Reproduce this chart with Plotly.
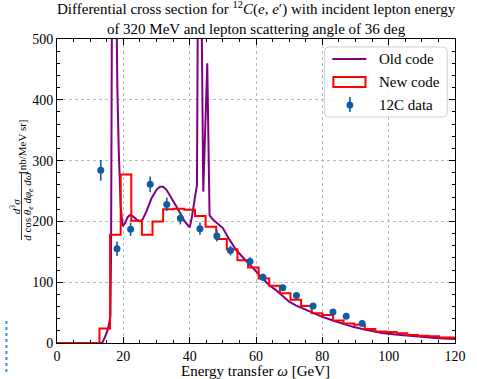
import plotly.graph_objects as go

# ---- Old code: continuous cross-section curve (omega in GeV, nb/MeV sr)
old_omega = [0.0, 13.6, 14.5, 15.3, 15.8, 16.1, 16.3, 16.6, 17.2, 17.8, 18.2,
             18.6, 19.2, 19.8, 20.5, 21.3, 22.1, 23.0, 24.0, 25.0, 25.8, 27.0,
             28.5, 30.0, 31.0, 32.0, 33.0, 34.0, 35.5, 37.0, 38.5, 40.0, 40.6,
             41.2, 41.8, 42.2, 42.5, 43.0, 43.5, 44.1, 45.3, 46.0, 47.0, 48.0,
             50.0, 52.0, 54.0, 56.0, 58.0, 60.0, 62.0, 64.0, 66.0, 68.0, 70.0,
             72.0, 74.0, 76.0, 78.0, 80.0, 83.0, 86.0, 89.0, 92.0, 95.0, 98.0,
             102.0, 106.0, 110.0, 115.0, 120.0]
old_xsec = [0, 0, 10, 22, 34, 44, 150, 600, 900, 560, 420,
            320, 225, 192, 197, 207, 211, 208, 203, 200, 203, 217,
            238, 252, 257, 257, 252, 243, 230, 215, 200, 190, 205,
            225, 240, 260, 600, 800, 600, 249, 460, 210, 203, 198,
            189, 170, 153, 141, 130, 118, 106, 95, 87, 77, 68,
            62, 57, 52, 47, 43, 37.5, 32, 27, 23, 19.5, 16.5,
            14, 12, 10, 8, 6.5]

# ---- New code: binned cross section
new_edges = [0.0, 3.2, 6.4, 9.6, 12.8, 16.0, 19.2, 22.4, 25.6, 28.8, 32.0,
             35.2, 38.4, 41.6, 44.8, 48.0, 51.2, 54.4, 57.6, 60.8, 64.0, 67.2,
             70.4, 73.6, 76.8, 80.0, 83.2, 86.4, 89.6, 92.8, 96.0, 99.2, 102.4,
             105.6, 108.8, 112.0, 115.2, 118.4, 120.0]
new_xsec = [0, 0, 0, 0, 24, 178, 277, 201, 178, 200, 220,
            221, 219, 209, 191, 171, 154, 136, 124, 106, 94, 82,
            71, 61, 49, 46, 37, 32, 30, 23, 19, 18, 16,
            13, 12, 11, 9, 9]

# ---- 12C measurements
data_omega = [13.2, 18.1, 22.2, 28.1, 33.1, 37.2, 43.1, 48.2, 52.3, 58.2,
              62.1, 68.1, 72.2, 77.2, 83.2, 87.2, 92.0]
data_xsec = [284, 155, 187, 261, 228, 205, 188, 176, 152, 134,
             108, 91, 78, 61, 51, 44, 32]
data_err = [17, 12, 11, 13, 11, 10, 10, 9, 8, 7, 6, 5, 5, 4, 4, 3, 3]

x_ticks = [0, 20, 40, 60, 80, 100, 120]
y_ticks = [0, 100, 200, 300, 400, 500]

PURPLE = "#800080"
RED = "#ff0000"
BLUE = "#0C5DA5"
FONT = "Liberation Serif"

W, H = 477, 379
L, R, T, B = 57, 11, 39, 36
PW, PH = W - L - R, H - T - B


def px(x):
    """Pixel column -> paper x."""
    return (x - L) / PW


def py(y):
    """Pixel row -> paper y."""
    return (H - B - y) / PH


fig = go.Figure()

fig.add_trace(go.Scatter(
    x=old_omega, y=old_xsec, mode="lines", name="Old code",
    line=dict(color=PURPLE, width=2), showlegend=False))

fig.add_trace(go.Scatter(
    x=new_edges, y=new_xsec + [new_xsec[-1]], mode="lines", name="New code",
    line=dict(color=RED, width=2, shape="hv"), showlegend=False))

fig.add_trace(go.Scatter(
    x=data_omega, y=data_xsec, mode="markers", name="12C data",
    marker=dict(color=BLUE, size=7),
    error_y=dict(type="data", array=data_err, color=BLUE, thickness=1.6, width=0),
    showlegend=False))

axis_common = dict(
    showline=True, linecolor="black", linewidth=1, mirror="ticks",
    ticks="inside", ticklen=6, tickwidth=1, tickcolor="black",
    showgrid=True, gridcolor="#b8b8b8", griddash="dot", gridwidth=0.8,
    zeroline=False,
    tickfont=dict(family=FONT, size=14, color="black"),
)

fig.update_xaxes(
    range=[0, 120], tickvals=x_ticks,
    minor=dict(ticks="inside", ticklen=3, tickcolor="black", dtick=5,
               tick0=0, showgrid=False),
    **axis_common)
fig.update_yaxes(
    range=[0, 500], tickvals=y_ticks,
    minor=dict(ticks="inside", ticklen=3, tickcolor="black", dtick=20,
               tick0=0, showgrid=False),
    **axis_common)

shapes = []
annotations = []

# legend frame with rounded corners
x0, x1, y0, y1 = px(332), px(458), py(117), py(47)
rx, ry = 4 / PW, 4 / PH
frame = (f"M {x0+rx},{y0} L {x1-rx},{y0} Q {x1},{y0} {x1},{y0+ry} "
         f"L {x1},{y1-ry} Q {x1},{y1} {x1-rx},{y1} L {x0+rx},{y1} "
         f"Q {x0},{y1} {x0},{y1-ry} L {x0},{y0+ry} Q {x0},{y0} {x0+rx},{y0} Z")
shapes.append(dict(type="path", path=frame, xref="paper", yref="paper",
                   fillcolor="rgba(255,255,255,0.85)",
                   line=dict(color="#d0d0d0", width=1), layer="above"))
# legend glyphs
shapes.append(dict(type="line", xref="paper", yref="paper",
                   x0=px(340), x1=px(375), y0=py(59), y1=py(59),
                   line=dict(color=PURPLE, width=2), layer="above"))
shapes.append(dict(type="rect", xref="paper", yref="paper",
                   x0=px(341), x1=px(374), y0=py(87), y1=py(77),
                   line=dict(color=RED, width=2), fillcolor="rgba(0,0,0,0)",
                   layer="above"))
shapes.append(dict(type="line", xref="paper", yref="paper",
                   x0=px(358), x1=px(358), y0=py(112), y1=py(97),
                   line=dict(color=BLUE, width=1.6), layer="above"))
shapes.append(dict(type="circle", xref="paper", yref="paper",
                   x0=px(354.5), x1=px(361.5), y0=py(108.5), y1=py(101.5),
                   line=dict(color=BLUE, width=0), fillcolor=BLUE,
                   layer="above"))
for label, yy in [("Old code", 59), ("New code", 82), ("12C data", 105)]:
    annotations.append(dict(text=label, xref="paper", yref="paper",
                            x=px(386), y=py(yy), xanchor="left",
                            yanchor="middle", showarrow=False,
                            font=dict(family=FONT, size=15, color="black")))

# title
annotations.append(dict(
    text=("Differential cross section for <sup>12</sup><i>C</i>(<i>e</i>, "
          "<i>e</i>′) with incident lepton energy<br>"
          "of 320 MeV and lepton scattering angle of 36 deg"),
    xref="paper", yref="paper", x=0.5, y=py(18), xanchor="center",
    yanchor="middle", showarrow=False, align="center",
    font=dict(family=FONT, size=15, color="black")))

# x axis label
annotations.append(dict(
    text="Energy transfer <i>ω</i> [GeV]", xref="paper", yref="paper",
    x=px(261), y=py(371), xanchor="center", yanchor="middle",
    showarrow=False, font=dict(family=FONT, size=15, color="black")))

# y axis label as a fraction
annotations.append(dict(
    text="<i>d</i><sup>3</sup><i>σ</i>", xref="paper", yref="paper",
    x=px(14), y=py(207), xanchor="center", yanchor="middle",
    textangle=-90, showarrow=False,
    font=dict(family=FONT, size=11, color="black")))
annotations.append(dict(
    text=("<i>d</i> cos <i>θ</i><sub><i>e</i></sub> "
          "<i>dφ</i><sub><i>e</i></sub> <i>dω</i>"),
    xref="paper", yref="paper", x=px(27), y=py(206), xanchor="center",
    yanchor="middle", textangle=-90, showarrow=False,
    font=dict(family=FONT, size=11, color="black")))
shapes.append(dict(type="line", xref="paper", yref="paper",
                   x0=px(20.5), x1=px(20.5), y0=py(240), y1=py(173),
                   line=dict(color="black", width=0.8)))
annotations.append(dict(
    text="[nb/MeV sr]", xref="paper", yref="paper",
    x=px(21), y=py(147), xanchor="center", yanchor="middle",
    textangle=-90, showarrow=False,
    font=dict(family=FONT, size=11, color="black")))

# small dotted marker strip at the lower left edge
shapes.append(dict(type="line", xref="paper", yref="paper",
                   x0=px(5), x1=px(5), y0=py(372), y1=py(318),
                   line=dict(color="#3a8fd8", width=2, dash="dot")))

fig.update_layout(
    width=W, height=H,
    margin=dict(l=L, r=R, t=T, b=B, pad=0),
    paper_bgcolor="white", plot_bgcolor="white",
    showlegend=False,
    shapes=shapes, annotations=annotations,
    font=dict(family=FONT, color="black"),
)

fig.write_html("out.html")
